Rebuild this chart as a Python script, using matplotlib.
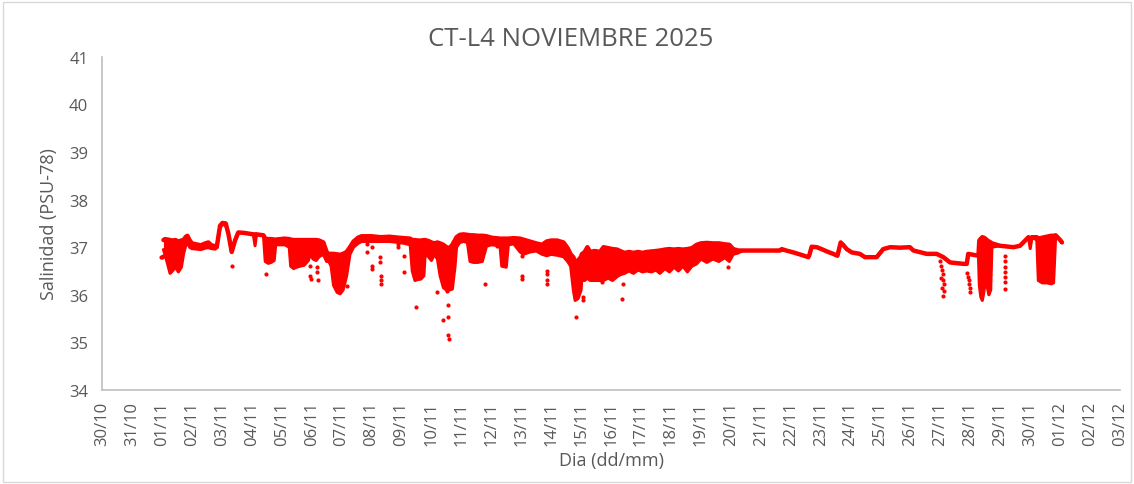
import matplotlib
matplotlib.use("Agg")
import matplotlib.pyplot as plt
import matplotlib.patches as patches

# days counted from 30/10 00:00
tick_labels = ["30/10", "31/10", "01/11", "02/11", "03/11", "04/11", "05/11",
               "06/11", "07/11", "08/11", "09/11", "10/11", "11/11", "12/11",
               "13/11", "14/11", "15/11", "16/11", "17/11", "18/11", "19/11",
               "20/11", "21/11", "22/11", "23/11", "24/11", "25/11", "26/11",
               "27/11", "28/11", "29/11", "30/11", "01/12", "02/12", "03/12"]

# upper and lower edge of the salinity record (equal where the signal is clean)
env_day = [2.05, 2.10, 2.20, 2.27, 2.35, 2.45, 2.55, 2.65, 2.72, 2.80, 2.85, 2.92,
           3.00, 3.15, 3.30, 3.45, 3.55, 3.65, 3.78, 3.83, 3.94, 4.02, 4.13, 4.22,
           4.33, 4.44, 4.55, 4.75, 4.95, 5.05, 5.11, 5.16, 5.39, 5.45, 5.55, 5.65,
           5.75, 5.80, 5.95, 6.10, 6.25, 6.30, 6.40, 6.50, 6.61, 6.75, 6.89, 6.95,
           7.05, 7.15, 7.25, 7.39, 7.50, 7.56, 7.65, 7.73, 7.85, 7.95, 8.05, 8.17,
           8.28, 8.40, 8.55, 8.67, 9.00, 9.30, 9.60, 9.90, 10.10, 10.29, 10.36, 10.45,
           10.55, 10.65, 10.75, 10.79, 10.90, 11.00, 11.10, 11.20, 11.29, 11.40, 11.50, 11.60,
           11.70, 11.79, 11.84, 11.95, 12.07, 12.20, 12.29, 12.40, 12.55, 12.70, 12.84, 13.00,
           13.29, 13.35, 13.50, 13.57, 13.75, 13.96, 14.07, 14.30, 14.50, 14.70, 14.85, 15.00,
           15.20, 15.41, 15.55, 15.65, 15.74, 15.80, 15.90, 16.00, 16.02, 16.12, 16.21, 16.30,
           16.45, 16.63, 16.75, 16.90, 17.05, 17.20, 17.30, 17.45, 17.60, 17.75, 17.90, 18.05,
           18.19, 18.35, 18.50, 18.63, 18.80, 18.95, 19.10, 19.25, 19.40, 19.55, 19.70, 19.86,
           20.00, 20.20, 20.40, 20.60, 20.80, 20.95, 21.08, 21.25, 21.40, 21.64, 22.64, 22.70,
           22.85, 23.09, 23.35, 23.59, 23.63, 23.70, 23.87, 24.03, 24.25, 24.42, 24.56, 24.67,
           24.75, 24.87, 25.04, 25.31, 25.48, 25.87, 26.09, 26.32, 26.65, 26.98, 27.10, 27.54,
           27.87, 28.10, 28.32, 28.77, 28.88, 28.93, 29.27, 29.30, 29.35, 29.40, 29.45, 29.50,
           29.55, 29.62, 29.68, 29.72, 29.99, 30.44, 30.66, 30.94, 31.00, 31.06, 31.22, 31.27,
           31.40, 31.55, 31.70, 31.78, 31.85, 32.00, 32.06]
env_top = [37.15, 37.17, 37.16, 37.15, 37.14, 37.15, 37.12, 37.14, 37.15, 37.22, 37.24, 37.15,
           37.08, 37.06, 37.04, 37.08, 37.10, 37.04, 37.02, 37.00, 37.45, 37.51, 37.50, 37.28,
           36.90, 37.14, 37.31, 37.30, 37.28, 37.27, 37.27, 37.27, 37.25, 37.18, 37.17, 37.17,
           37.16, 37.16, 37.17, 37.18, 37.17, 37.16, 37.15, 37.15, 37.15, 37.15, 37.15, 37.15,
           37.15, 37.15, 37.14, 37.10, 36.90, 36.86, 36.86, 36.86, 36.85, 36.84, 36.86, 36.90,
           37.00, 37.12, 37.20, 37.23, 37.23, 37.21, 37.22, 37.20, 37.19, 37.18, 37.15, 37.15,
           37.14, 37.14, 37.15, 37.15, 37.13, 37.10, 37.08, 37.10, 37.08, 37.05, 37.00, 36.98,
           37.05, 37.15, 37.21, 37.26, 37.27, 37.26, 37.25, 37.25, 37.24, 37.24, 37.23, 37.20,
           37.18, 37.18, 37.18, 37.18, 37.19, 37.18, 37.16, 37.12, 37.08, 37.05, 37.12, 37.14,
           37.14, 37.10, 36.98, 36.85, 36.79, 36.70, 36.72, 36.80, 36.85, 36.90, 37.00, 36.90,
           36.92, 36.90, 37.00, 36.98, 36.96, 36.95, 36.92, 36.88, 36.90, 36.88, 36.90, 36.88,
           36.90, 36.91, 36.92, 36.93, 36.95, 36.96, 36.95, 36.96, 36.95, 36.96, 36.98, 37.05,
           37.08, 37.09, 37.08, 37.08, 37.06, 37.05, 36.96, 36.93, 36.93, 36.93, 36.93, 36.96,
           36.93, 36.89, 36.84, 36.79, 36.85, 37.01, 37.00, 36.96, 36.90, 36.86, 36.82, 37.10,
           37.05, 36.96, 36.89, 36.86, 36.79, 36.79, 36.96, 37.00, 36.99, 37.00, 36.93, 36.86,
           36.86, 36.79, 36.68, 36.65, 36.65, 36.86, 36.82, 37.14, 37.18, 37.21, 37.20, 37.18,
           37.15, 37.12, 37.10, 37.08, 37.03, 37.00, 37.03, 37.21, 37.18, 37.21, 37.21, 37.18,
           37.20, 37.22, 37.24, 37.24, 37.25, 37.15, 37.10]
env_low = [36.95, 36.85, 36.62, 36.45, 36.50, 36.58, 36.48, 36.58, 36.85, 37.05, 37.10, 37.00,
           36.97, 36.96, 36.95, 36.98, 36.99, 36.97, 36.96, 37.00, 37.40, 37.48, 37.46, 37.28,
           36.90, 37.14, 37.31, 37.30, 37.28, 37.27, 37.03, 37.27, 37.25, 36.70, 36.66, 36.68,
           36.72, 37.05, 37.05, 37.05, 37.00, 36.60, 36.55, 36.58, 36.60, 36.62, 36.72, 36.85,
           36.75, 36.72, 36.80, 36.85, 36.70, 36.72, 36.60, 36.20, 36.05, 36.02, 36.10, 36.40,
           36.85, 37.00, 37.08, 37.12, 37.12, 37.12, 37.12, 37.10, 37.08, 37.05, 36.50, 36.30,
           36.32, 36.33, 36.40, 36.85, 36.80, 36.72, 36.85, 36.75, 36.40, 36.15, 36.10, 36.10,
           36.12, 36.60, 37.00, 37.10, 37.12, 37.10, 36.70, 36.68, 36.68, 36.70, 37.02, 37.05,
           37.03, 36.60, 36.58, 37.05, 37.07, 36.90, 36.85, 36.90, 36.92, 36.85, 36.82, 36.85,
           36.83, 36.80, 36.70, 36.60, 36.10, 35.88, 35.92, 36.10, 36.30, 36.30, 36.35, 36.30,
           36.30, 36.30, 36.30, 36.35, 36.30, 36.38, 36.42, 36.45, 36.50, 36.45, 36.52, 36.48,
           36.50, 36.48, 36.52, 36.45, 36.55, 36.48, 36.58, 36.50, 36.60, 36.48, 36.60, 36.65,
           36.75, 36.68, 36.75, 36.70, 36.78, 36.70, 36.85, 36.88, 36.93, 36.93, 36.93, 36.96,
           36.93, 36.89, 36.84, 36.79, 36.85, 37.01, 37.00, 36.96, 36.90, 36.86, 36.82, 37.10,
           37.05, 36.96, 36.89, 36.86, 36.79, 36.79, 36.96, 37.00, 36.99, 37.00, 36.93, 36.86,
           36.86, 36.79, 36.68, 36.65, 36.65, 36.86, 36.82, 36.20, 35.95, 35.88, 36.05, 36.30,
           36.20, 36.00, 36.10, 37.00, 37.03, 37.00, 37.03, 37.21, 36.97, 37.21, 37.15, 36.30,
           36.25, 36.25, 36.23, 36.25, 37.25, 37.15, 37.10]

# isolated readings away from the main trace
pt_day = [1.96, 1.99, 2.02, 4.33, 5.48, 6.96, 6.96, 6.97, 7.19, 7.19, 7.20, 8.17,
          8.84, 8.84, 9.01, 9.01, 9.02, 9.29, 9.29, 9.30, 9.30, 9.31, 9.90, 9.90,
          10.07, 10.07, 10.49, 11.18, 11.40, 11.52, 11.55, 11.57, 11.57, 11.58, 12.79, 13.18,
          14.01, 14.01, 14.02, 14.85, 14.85, 14.86, 14.86, 15.83, 16.07, 16.06, 16.69, 16.91,
          17.35, 17.41, 20.92,
          28.00, 28.03, 28.05, 28.08, 28.02, 28.10, 28.12, 28.06, 28.12, 28.10,
          28.90, 28.92, 28.95, 28.96, 28.98, 28.99,
          30.16, 30.16, 30.16, 30.16, 30.16, 30.16, 30.16]
pt_sal = [36.80, 36.80, 36.81, 36.61, 36.44, 36.61, 36.40, 36.33, 36.58, 36.47, 36.30, 36.19,
          37.07, 36.89, 37.00, 36.61, 36.54, 36.79, 36.68, 36.40, 36.30, 36.23, 37.07, 37.00,
          36.82, 36.47, 35.75, 36.05, 35.46, 36.08, 35.78, 35.53, 35.15, 35.08, 36.22, 37.03,
          36.81, 36.40, 36.33, 36.51, 36.44, 36.30, 36.23, 35.54, 35.88, 35.95, 36.27, 36.37,
          35.91, 36.23, 36.58,
          36.70, 36.60, 36.52, 36.44, 36.36, 36.30, 36.22, 36.15, 36.08, 35.98,
          36.45, 36.38, 36.30, 36.22, 36.15, 36.05,
          36.82, 36.72, 36.58, 36.47, 36.37, 36.26, 36.12]

red = "#ff0000"
grey = "#595959"
plt.rcParams["font.family"] = ["Open Sans", "DejaVu Sans"]

fig = plt.figure(figsize=(11.34, 4.85), dpi=100)
ax = fig.add_axes([0.09, 0.194, 0.8977, 0.6866])

ax.fill_between(env_day, env_low, env_top, color=red, lw=0)
ax.plot(env_day, env_top, color=red, lw=3.2, solid_capstyle="round")
ax.plot(env_day, env_low, color=red, lw=2.2, solid_capstyle="round")
ax.scatter(pt_day, pt_sal, s=9, color=red, lw=0)

ax.set_xlim(0, len(tick_labels) - 1)
ax.set_ylim(34, 41)
ax.set_xticks(range(len(tick_labels)))
ax.set_xticklabels(tick_labels, rotation=90)
ax.set_yticks(range(34, 42))
ax.tick_params(length=0, labelsize=12, colors=grey)
ax.tick_params(axis="x", pad=8)
ax.tick_params(axis="y", pad=10)

for s in ["top", "right"]:
    ax.spines[s].set_visible(False)
for s in ["left", "bottom"]:
    ax.spines[s].set_color("#bfbfbf")
    ax.spines[s].set_linewidth(1.2)

fig.text(0.503, 0.918, "CT-L4 NOVIEMBRE 2025", fontsize=18.5, color=grey,
         ha="center", va="center")
ax.set_ylabel("Salinidad (PSU-78)", fontsize=13, color=grey, labelpad=8)
ax.set_xlabel("Dia (dd/mm)", fontsize=13, color=grey, labelpad=4)

fig.patches.append(patches.Rectangle((0.003, 0.004), 0.994, 0.99, transform=fig.transFigure,
                                     fill=False, edgecolor="#d9d9d9", lw=1))

fig.savefig("out.png", dpi=100)
